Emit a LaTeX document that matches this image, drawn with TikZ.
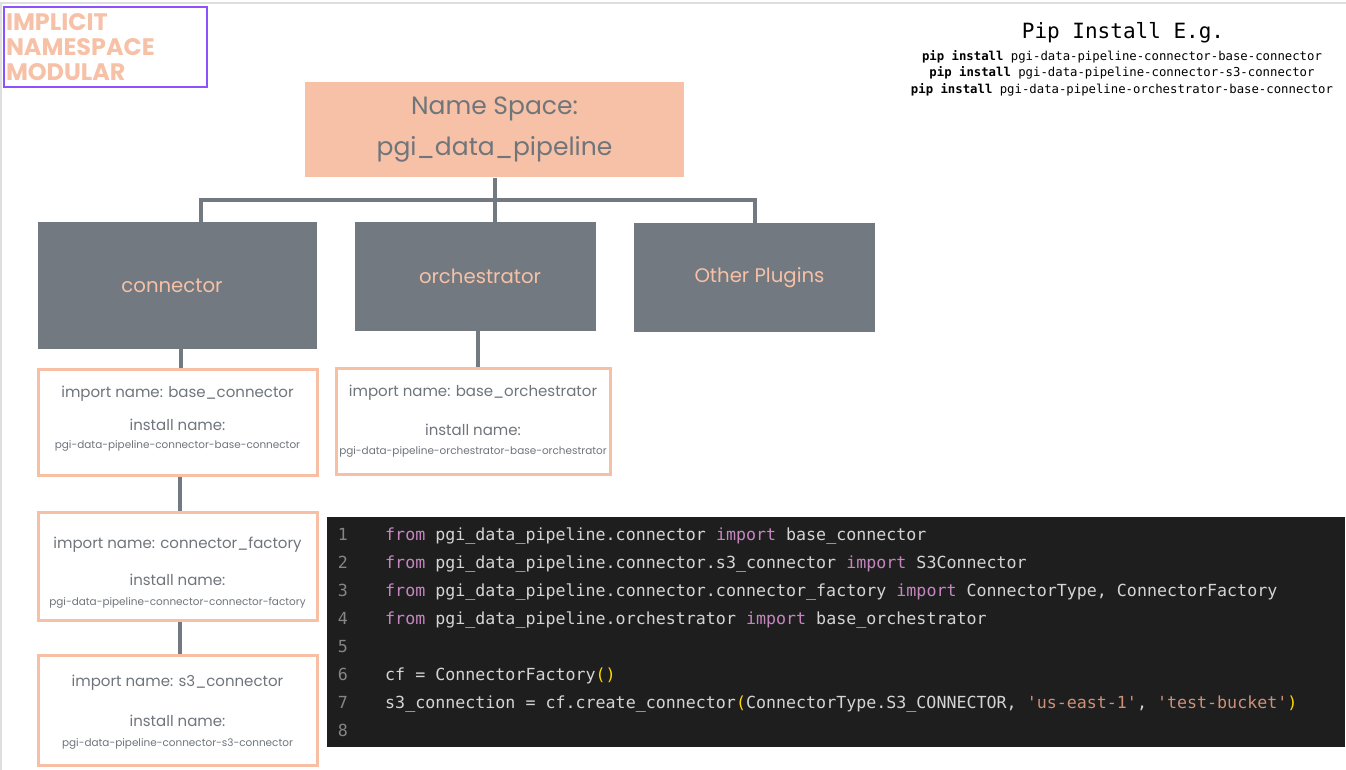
\documentclass[tikz,border=0pt]{standalone}
\usepackage{fontspec}
\setmainfont{Poppins}
\newfontfamily\codefont{DejaVu Sans Mono}
\usetikzlibrary{positioning}
\definecolor{peach}{HTML}{F6C1A6}
\definecolor{peachline}{HTML}{F7BFA3}
\definecolor{slate}{HTML}{737980}
\definecolor{slatetxt}{HTML}{6F757B}
\definecolor{violetline}{HTML}{8C52FF}
\definecolor{pagegrey}{HTML}{DEDEDE}
\definecolor{codebg}{HTML}{1E1E1E}
\definecolor{codetxt}{HTML}{D4D4D4}
\definecolor{codekwc}{HTML}{C586C0}
\definecolor{codestrc}{HTML}{CE9178}
\definecolor{codeparc}{HTML}{FFD700}
\definecolor{codenum}{HTML}{858585}
\newcommand{\codekw}[1]{{\color{codekwc}#1}}
\newcommand{\codestr}[1]{{\color{codestrc}#1}}
\newcommand{\codepar}[1]{{\color{codeparc}#1}}
\newcommand{\sq}{\textquotesingle}
\newcommand{\smalltxt}{\fontsize{10.45}{12}\selectfont}

\begin{document}
\begin{tikzpicture}[x=1pt, y=-1pt,
  nsbox/.style={fill=peach, text=slatetxt, minimum width=379, minimum height=95,
    align=center, font=\fontsize{25}{41}\selectfont},
  catbox/.style={fill=slate, text=peach, font=\fontsize{19.7}{22}\selectfont},
  pkgbox/.style={draw=peachline, line width=3pt, fill=white, text=slatetxt,
    align=center, inner sep=0pt, font=\fontsize{15}{18}\selectfont},
  tree/.style={draw=slate, line width=4pt},
  codeline/.style={anchor=base west, inner sep=0pt, text=codetxt,
    font=\codefont\fontsize{16.65}{20}\selectfont},
  pipline/.style={inner sep=0pt, font=\codefont\fontsize{12.3}{15}\selectfont}
]
\useasboundingbox (0,0) rectangle (1346,770);
\fill[white] (0,0) rectangle (1346,770);
\draw[pagegrey, line width=1.5pt] (1,770) -- (1,3) -- (1346,3);

% title
\node[draw=violetline, line width=2pt, text width=199, inner xsep=0, inner ysep=0,
  minimum width=203, minimum height=80, align=left, text=peach,
  font=\bfseries\fontsize{23.9}{25}\selectfont] (title) at (105.5,47)
  {IMPLICIT\\NAMESPACE\\MODULAR};

% pip install examples
\node[pipline, font=\codefont\fontsize{21}{24}\selectfont] (piphead) at (1123,33) {Pip Install E.g.};
\node[pipline] (pip1) at (1122,57) {\textbf{pip install} pgi-data-pipeline-connector-base-connector};
\node[pipline] (pip2) at (1122,73) {\textbf{pip install} pgi-data-pipeline-connector-s3-connector};
\node[pipline] (pip3) at (1122,90) {\textbf{pip install} pgi-data-pipeline-orchestrator-base-connector};

% namespace tree
\node[nsbox] (ns) at (494.5,130) {Name Space:\\pgi\_data\_pipeline};
\node[catbox, minimum width=279, minimum height=127] (conn) at (177,285.5) {connector\hspace*{10pt}};
\node[catbox, minimum width=241, minimum height=109] (orch) at (475,276.5) {\hspace*{10pt}orchestrator};
\node[catbox, minimum width=241, minimum height=109] (other) at (754.5,277.5) {\hspace*{10pt}Other Plugins};

\draw[tree] (ns.south) -- ++(0,22) coordinate (hub);
\draw[tree] ([xshift=24pt]conn.north) |- (hub) -| (other.north);
\draw[tree] (hub) -- (hub |- orch.north);

% packages
\node[pkgbox, minimum width=279, minimum height=106] (basec) at (177.5,422)
  {import name: base\_connector\\[15pt] install name:\\[0pt]
   {\smalltxt pgi-data-pipeline-connector-base-connector\rule[-10pt]{0pt}{10pt}}};
\node[pkgbox, minimum width=274, minimum height=106] (baseo) at (473,421)
  {import name: base\_orchestrator\\[21pt] install name:\\[1pt]
   {\smalltxt pgi-data-pipeline-orchestrator-base-orchestrator}};
\node[pkgbox, minimum width=279, minimum height=108] (factory) at (177.5,566)
  {\rule{0pt}{24pt}import name: connector\_factory\\[19pt] install name:\\[2pt]
   {\smalltxt pgi-data-pipeline-connector-connector-factory}};
\node[pkgbox, minimum width=279, minimum height=110] (s3c) at (177.5,710)
  {\rule{0pt}{15pt}import name: s3\_connector\\[22pt] install name:\\[2pt]
   {\smalltxt pgi-data-pipeline-connector-s3-connector}};

\draw[tree] ([xshift=4pt]conn.south) -- ([xshift=4pt]conn.south |- basec.north);
\draw[tree] ([xshift=3pt]orch.south) -- ([xshift=3pt]orch.south |- baseo.north);
\draw[tree] ([xshift=2.5pt]basec.south) -- ([xshift=2.5pt]basec.south |- factory.north);
\draw[tree] ([xshift=2.5pt]factory.south) -- ([xshift=2.5pt]factory.south |- s3c.north);

% code sample
\fill[codebg] (327,517) rectangle (1345,747);
\foreach \n in {1,...,8}
  \node[codeline, anchor=base, text=codenum] (num\n) at (343,540+28*\n-28) {\n};
\node[codeline] (code1) at (385,540)
  {\codekw{from} pgi\_data\_pipeline.connector \codekw{import} base\_connector};
\node[codeline] (code2) at (385,568)
  {\codekw{from} pgi\_data\_pipeline.connector.s3\_connector \codekw{import} S3Connector};
\node[codeline] (code3) at (385,596)
  {\codekw{from} pgi\_data\_pipeline.connector.connector\_factory \codekw{import} ConnectorType, ConnectorFactory};
\node[codeline] (code4) at (385,624)
  {\codekw{from} pgi\_data\_pipeline.orchestrator \codekw{import} base\_orchestrator};
\node[codeline] (code6) at (385,680)
  {cf = ConnectorFactory\codepar{()}};
\node[codeline] (code7) at (385,708)
  {s3\_connection = cf.create\_connector\codepar{(}ConnectorType.S3\_CONNECTOR, \codestr{\sq us-east-1\sq}, \codestr{\sq test-bucket\sq}\codepar{)}};
\end{tikzpicture}
\end{document}
